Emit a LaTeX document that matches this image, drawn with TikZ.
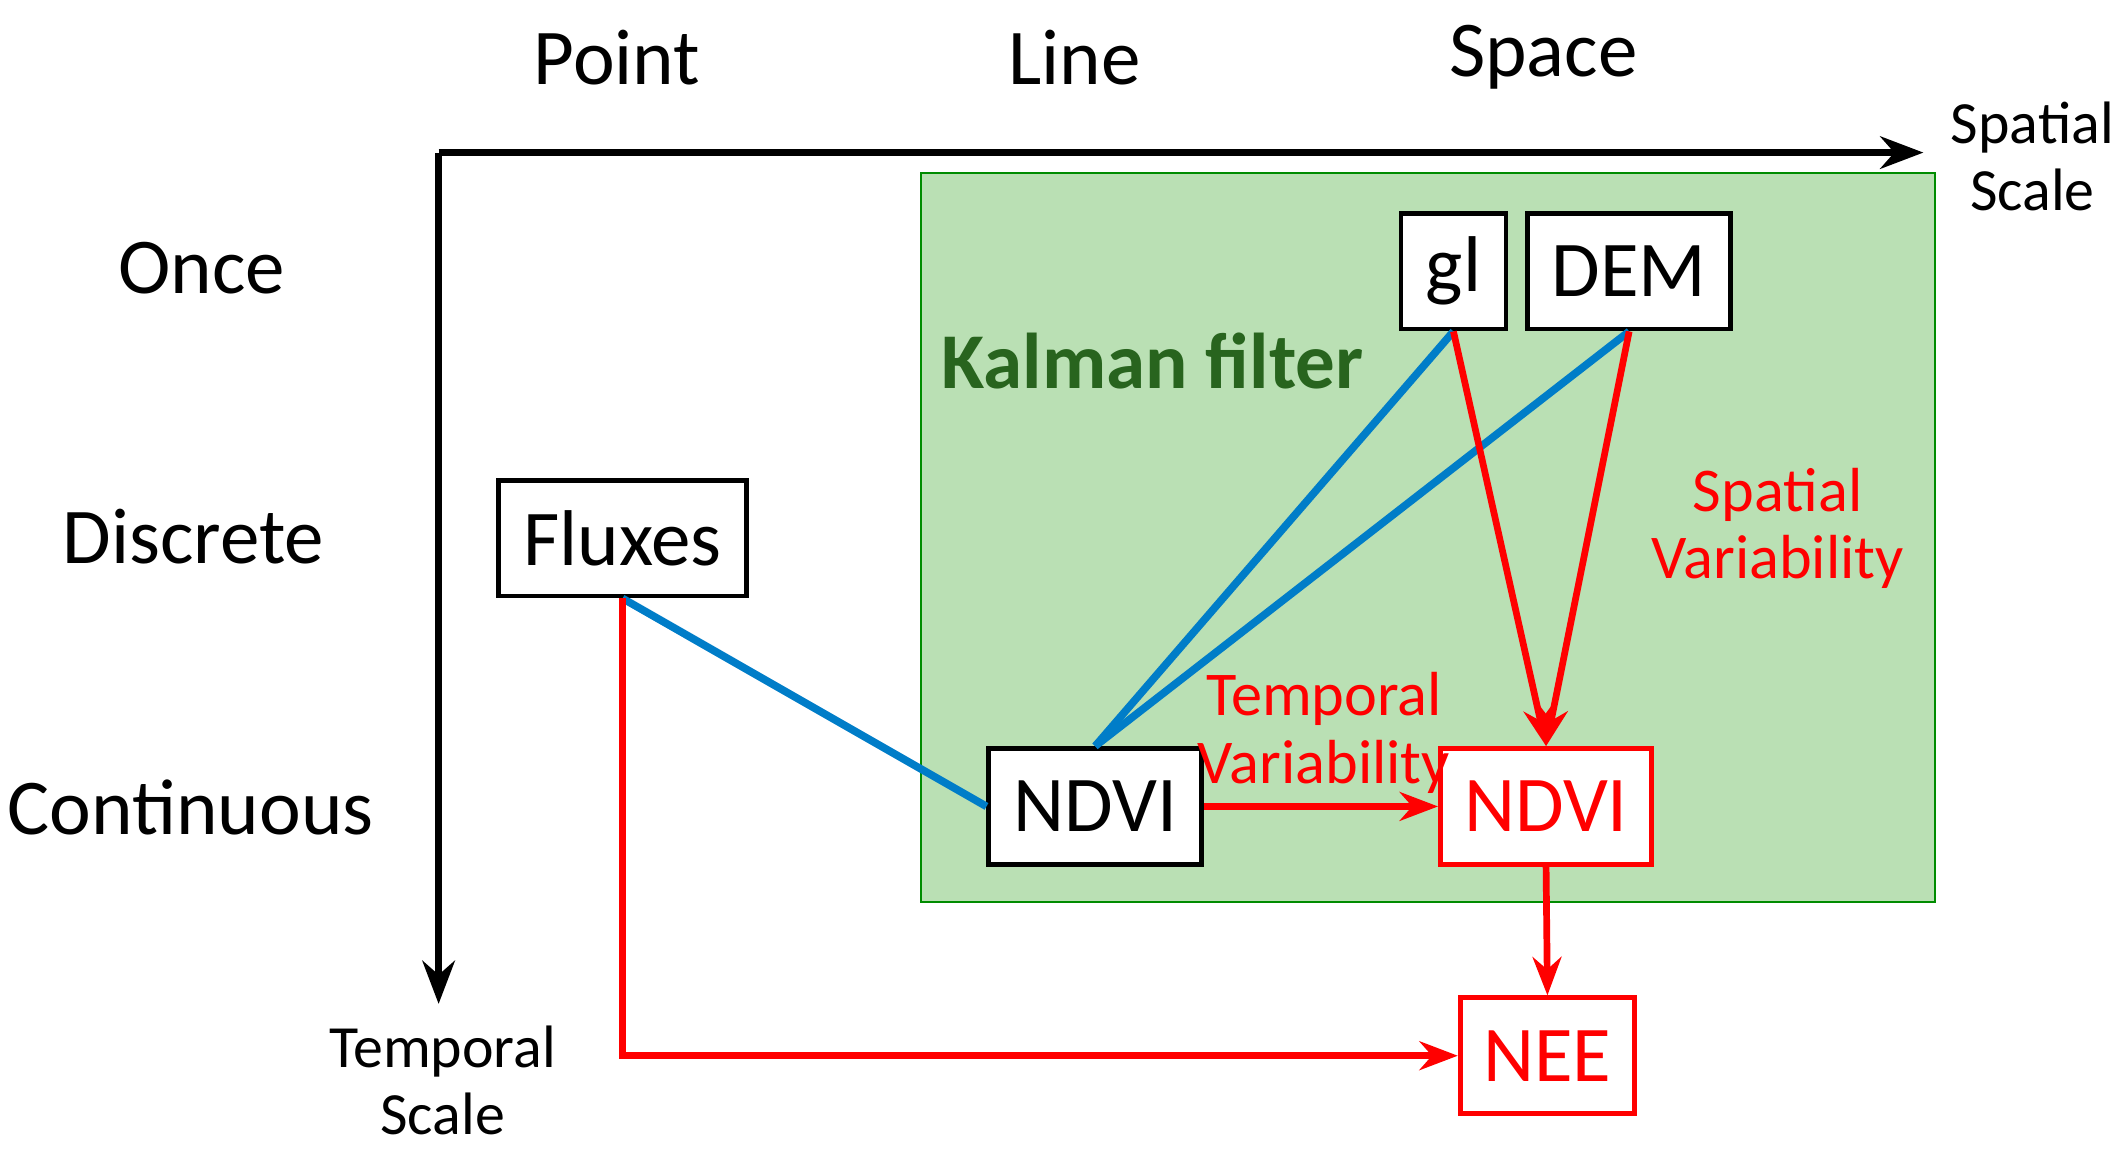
\documentclass[tikz,border=0pt]{standalone}
\usepackage{fontspec}
\setmainfont{Carlito}
\usetikzlibrary{arrows.meta}
\definecolor{kalgreen}{RGB}{186,224,180}
\definecolor{kaldark}{RGB}{40,100,30}
\definecolor{linkblue}{RGB}{0,125,200}
\begin{document}
\begin{tikzpicture}[x=0.01cm, y=-0.01cm,
    box/.style = {draw, line width=1pt, minimum height=0.85cm, inner xsep=2pt, font=\fontsize{16.5}{19}\selectfont},
    redbox/.style = {box, draw=red, text=red, fill=white},
    heading/.style = {font=\fontsize{16.5}{19}\selectfont},
    small/.style = {font=\fontsize{12.5}{14}\selectfont, align=center},
    redtext/.style = {small, text=red, font=\fontsize{13}{14}\selectfont},
    blueline/.style = {linkblue, line width=1.6pt},
    redarrow/.style = {red, line width=1.4pt, -{Stealth[length=8pt]}},
    baseline=(current bounding box.center)]
      \useasboundingbox (0,0) rectangle (1560,847);
      % background and axes
      \node[draw=green!55!black, fill=kalgreen, minimum width=7.44cm, minimum height=5.35cm, inner sep=0pt] (kalman) at (1048,394.5) {};
      \coordinate (origin) at (322,112);
      \coordinate (xend) at (1412,112);
      \coordinate (yend) at (322,737);
      \draw[line width=1.6pt, -{Stealth[length=9pt]}] (origin) -- (xend);
      \draw[line width=1.6pt, -{Stealth[length=9pt]}] (origin) -- (yend);
      \node[small] (spatial) at (1492,115) {Spatial\\Scale};
      \node[small] (temporal) at (325,793) {Temporal\\Scale};
      \node[heading] (point) at (453,42) {Point};
      \node[heading] (line) at (789,42) {Line};
      \node[heading] (space) at (1133,42) {Space};
      \node[heading] (once) at (148,197) {Once};
      \node[heading] (discrete) at (142,394) {Discrete};
      \node[heading] (continuous) at (140,593) {Continuous};
      \node[text=kaldark, font=\bfseries\fontsize{16.5}{19}\selectfont] (kaltitle) at (846,265) {Kalman filter};
      % nodes
      \node[box, fill=white, minimum width=0.77cm] (gl) at (1067,199) {gl};
      \node[box, fill=white, minimum width=1.49cm] (dem) at (1196,199) {DEM};
      \node[box, fill=white, minimum width=1.82cm] (fluxes) at (457,395) {Fluxes};
      \node[box, fill=white, minimum width=1.56cm] (ndvi) at (804,592) {NDVI};
      \node[redbox, minimum width=1.55cm] (ndvis) at (1135,592) {NDVI};
      \node[redbox, minimum width=1.28cm] (nee) at (1136,775) {NEE};
      \node[redtext] (spatvar) at (1305,388) {Spatial\\Variability};
      \node[redtext] (tempvar) at (972,538) {Temporal\\Variability};
      % connectors
      \draw[blueline] (fluxes.south) -- (ndvi.west);
      \draw[blueline] (gl.south) -- (ndvi.north);
      \draw[blueline] (dem.south) -- (ndvi.north);
      \draw[redarrow] (gl.south) -- (ndvis.north);
      \draw[redarrow] (dem.south) -- (ndvis.north);
      \draw[redarrow] (ndvi.east) -- (ndvis.west);
      \draw[redarrow] (ndvis.south) -- (nee.north);
      \draw[redarrow] (fluxes.south) |- (nee.west);
\end{tikzpicture}
\end{document}
